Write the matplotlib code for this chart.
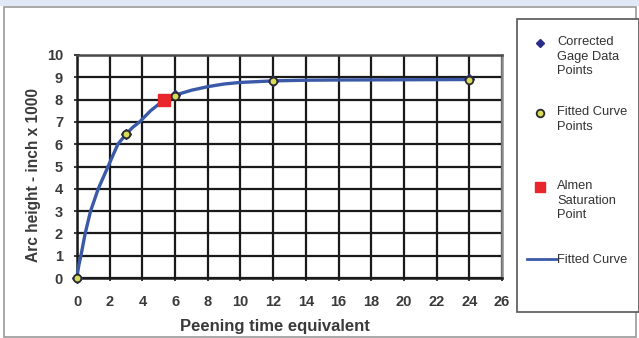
import matplotlib.pyplot as plt
from matplotlib.patches import Rectangle
from matplotlib.lines import Line2D

plt.rcParams['font.family'] = ['Liberation Sans', 'DejaVu Sans']

# data
gage_t = [0, 3, 6, 12, 24]
gage_h = [0, 6.45, 8.2, 8.85, 8.92]
fit_t = [0, 3, 6, 12, 24]
fit_h = [0, 6.45, 8.18, 8.83, 8.88]
sat_t = [5.35]
sat_h = [8.0]
curve_t = [0, 0.05, 0.12, 0.24, 0.5, 0.83, 1.3, 1.9, 2.5, 3, 3.4, 3.83, 4.5,
           5.35, 6, 7, 8, 9, 10, 12, 14, 16, 20, 24]
curve_h = [0, 0.3, 0.6, 1.0, 2.0, 3.0, 4.0, 5.0, 6.0, 6.45, 6.75, 7.0, 7.5,
           8.0, 8.2, 8.42, 8.58, 8.7, 8.77, 8.84, 8.87, 8.88, 8.89, 8.9]
xticks = list(range(0, 27, 2))
yticks = list(range(0, 11))

W, H = 639, 338
fig = plt.figure(figsize=(W / 100, H / 100), dpi=100)
fig.patch.set_facecolor('white')

# light blue band on top and grey frame
fig.add_artist(Rectangle((0, 1 - 6 / H), 1, 6 / H, transform=fig.transFigure,
                         facecolor='#dfe8f4', edgecolor='none'))
fig.add_artist(Rectangle((4 / W, 1 / H), 632 / W, 330 / H, transform=fig.transFigure,
                         facecolor='none', edgecolor='#9a9a9a', lw=1.2))

ax = fig.add_axes([77 / W, 1 - 278 / H, 425 / W, 223 / H])
ax.set_xlim(0, 26)
ax.set_ylim(0, 10)
ax.set_xticks(xticks)
ax.set_yticks(yticks)
ax.grid(True, color='#1a1a1a', lw=1.6)
ax.set_axisbelow(True)
for s in ['left', 'bottom']:
    ax.spines[s].set_color('#1a1a1a')
    ax.spines[s].set_linewidth(1.8)
ax.spines['top'].set_color('#4a4a4a')
ax.spines['right'].set_color('#8a8a8a')
ax.spines['top'].set_linewidth(1.8)
ax.spines['right'].set_linewidth(1.8)
ax.tick_params(axis='both', direction='inout', length=4, width=1.2, color='#1a1a1a',
               labelsize=10.5, labelcolor='#3a3a3a')
ax.tick_params(axis='x', pad=10)
ax.tick_params(axis='y', pad=8)
for lab in ax.get_xticklabels() + ax.get_yticklabels():
    lab.set_fontweight('bold')

ax.plot(curve_t, curve_h, color='#3a5aa8', lw=2.4, zorder=3, clip_on=False)
ax.plot(gage_t, gage_h, ls='none', marker='D', ms=5, color='#2a2e8a', zorder=4, clip_on=False)
ax.plot(fit_t, fit_h, ls='none', marker='o', ms=5.5, mfc='#d8dc5a', mec='#2b2b2b', mew=1.3,
        zorder=5, clip_on=False)
ax.plot(sat_t, sat_h, ls='none', marker='s', ms=9, color='#e8262b', zorder=4)

ax.set_xlabel('Peening time equivalent', fontsize=12, fontweight='bold', color='#3a3a3a',
              va='center')
ax.xaxis.set_label_coords(198 / 425, -48 / 223)
ax.set_ylabel('Arc height - inch x 1000', fontsize=11.2, fontweight='bold', color='#3a3a3a',
              va='center')
ax.yaxis.set_label_coords(-43 / 425, 103 / 223)

# legend box drawn by hand
fig.add_artist(Rectangle((517 / W, 1 - 312 / H), 122 / W, 293 / H, transform=fig.transFigure,
                         facecolor='white', edgecolor='#555555', lw=1.2))
tx = 557 / W
mx = 540 / W
ls = 1.3
fs = 9.3
fig.add_artist(Line2D([mx], [1 - 43 / H], marker='D', ms=4.5, color='#2a2e8a',
                      transform=fig.transFigure))
fig.text(tx, 1 - 36 / H, 'Corrected\nGage Data\nPoints', fontsize=fs, color='#333333',
         va='top', ha='left', linespacing=ls)
fig.add_artist(Line2D([mx], [1 - 113 / H], marker='o', ms=5.5, mfc='#d8dc5a', mec='#2b2b2b',
                      mew=1.3, transform=fig.transFigure))
fig.text(tx, 1 - 106 / H, 'Fitted Curve\nPoints', fontsize=fs, color='#333333',
         va='top', ha='left', linespacing=ls)
fig.add_artist(Line2D([mx], [1 - 187 / H], marker='s', ms=7, color='#e8262b',
                      transform=fig.transFigure))
fig.text(tx, 1 - 180 / H, 'Almen\nSaturation\nPoint', fontsize=fs, color='#333333',
         va='top', ha='left', linespacing=ls)
fig.add_artist(Line2D([527 / W, 557 / W], [1 - 259 / H, 1 - 259 / H], color='#3a5aa8', lw=2,
                      transform=fig.transFigure))
fig.text(tx, 1 - 260 / H, 'Fitted Curve', fontsize=fs, color='#333333', va='center', ha='left')

fig.savefig('out.png', dpi=100)
